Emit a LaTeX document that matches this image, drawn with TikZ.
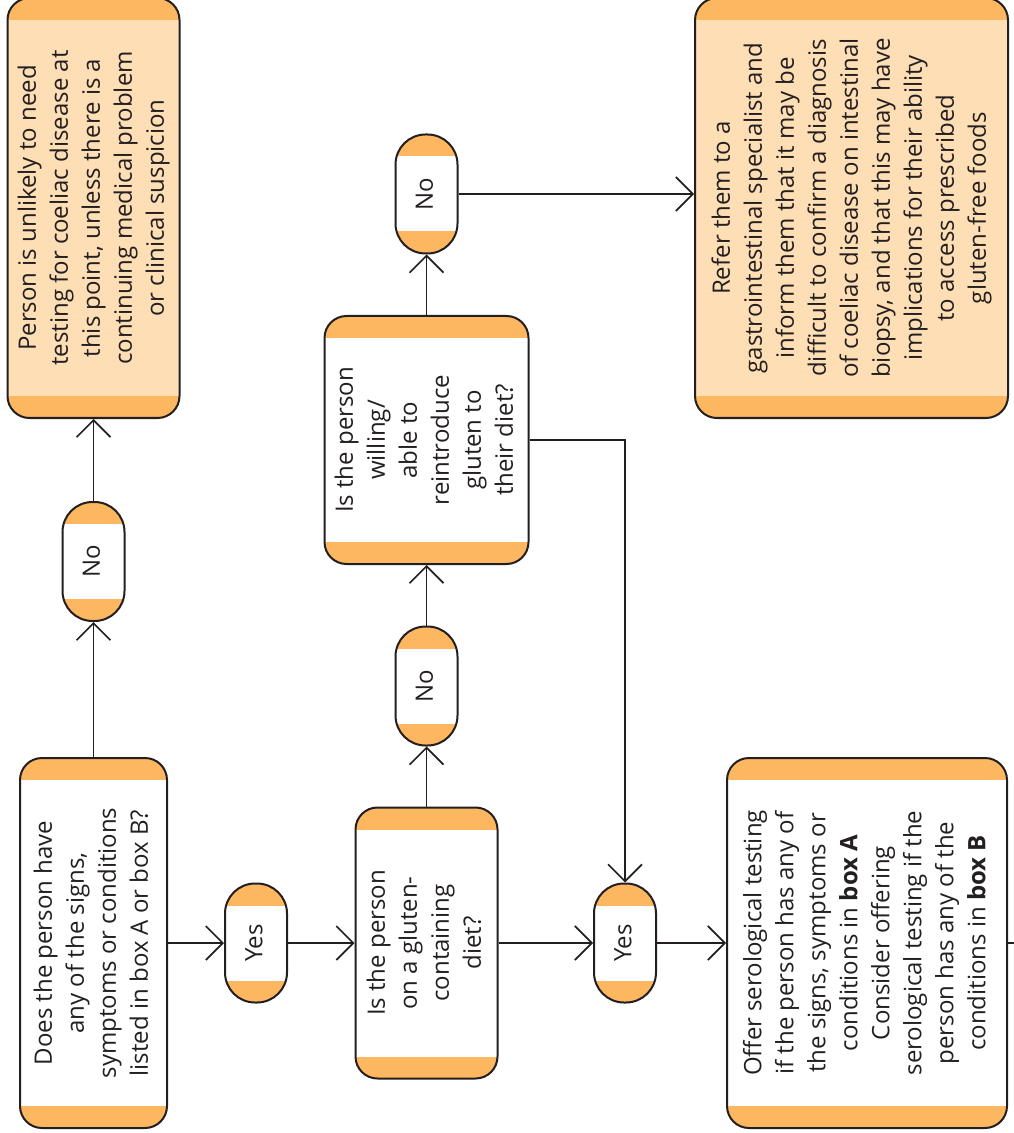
\documentclass[tikz,border=0pt]{standalone}
\usepackage{fontspec}
\setmainfont{Open Sans}
\usetikzlibrary{arrows.meta}
\definecolor{bandc}{RGB}{253,183,96}
\definecolor{peach}{RGB}{254,222,181}
\definecolor{ink}{RGB}{35,31,32}
\newcommand{\vtext}[1]{\rotatebox{90}{\fontsize{12pt}{16pt}\selectfont\begin{tabular}{@{}c@{}}#1\end{tabular}}}
\tikzset{
  banded/.style={draw=ink, line width=1pt, inner sep=0pt, text=ink,
    path picture={
      \fill[bandc, sharp corners] (path picture bounding box.north west) rectangle ([yshift=-11pt]path picture bounding box.north east);
      \fill[bandc, sharp corners] (path picture bounding box.south west) rectangle ([yshift=11pt]path picture bounding box.south east);}},
  qbox/.style={banded, fill=white, rounded corners=11pt},
  endbox/.style={banded, fill=peach, rounded corners=11pt},
  pill/.style={banded, fill=white, rounded corners=15pt, minimum width=31pt, minimum height=59.5pt},
  plainline/.style={draw=ink, line width=0.85pt},
  link/.style={plainline, -{Straight Barb[length=8.5pt,width=17pt,line width=0.85pt]}},
}
\begin{document}
\begin{tikzpicture}[x=0.5pt,y=-0.5pt]
\useasboundingbox (0,0) rectangle (1013,1133);
% top outcome boxes
\node[endbox, minimum width=86pt, minimum height=210pt] (person) at (93.5,208)
  {\vtext{Person is unlikely to need\\ testing for coeliac disease at\\ this point, unless there is a\\ continuing medical problem\\ or clinical suspicion}};
\node[endbox, minimum width=156.5pt, minimum height=210pt] (refer) at (851.5,208)
  {\vtext{Refer them to a\\ gastrointestinal specialist and\\ inform them that it may be\\ difficult to confirm a diagnosis\\ of coeliac disease on intestinal\\ biopsy, and that this may have\\ implications for their ability\\ to access prescribed\\ gluten-free foods}};
% middle
\node[pill] (no3) at (426.5,194) {\vtext{No}};
\node[qbox, minimum width=102pt, minimum height=124pt] (q3) at (426.5,440)
  {\vtext{Is the person\\ willing/\\ able to\\ reintroduce\\ gluten to\\ their diet?}};
\node[pill] (no2) at (426.5,686) {\vtext{No}};
\node[pill] (no1) at (93.5,561.5) {\vtext{No}};
% bottom row
\node[qbox, minimum width=73.5pt, minimum height=185pt] (q1) at (93.5,943)
  {\vtext{Does the person have\\ any of the signs,\\ symptoms or conditions\\ listed in box A or box B?}};
\node[pill] (yes1) at (256,943) {\vtext{Yes}};
\node[qbox, minimum width=71pt, minimum height=135.5pt] (q2) at (426.5,943)
  {\vtext{Is the person\\ on a gluten-\\ containing\\ diet?}};
\node[pill] (yes2) at (625,943) {\vtext{Yes}};
\node[qbox, minimum width=140pt, minimum height=185pt] (offer) at (867,943)
  {\vtext{Offer serological testing\\ if the person has any of\\ the signs, symptoms or\\ conditions in \textbf{box A}\\ Consider offering\\ serological testing if the\\ person has any of the\\ conditions in \textbf{box B}}};
\coordinate (offend) at (1040,943);
% connectors
\draw[link] (q1) -- (no1);
\draw[link] (no1) -- (person);
\draw[link] (q1) -- (yes1);
\draw[link] (yes1) -- (q2);
\draw[link] (q2) -- (no2);
\draw[link] (no2) -- (q3);
\draw[link] (q3) -- (no3);
\draw[link] (no3.east) -- (no3.east -| refer.west);
\draw[link] (q3.east) -| (yes2);
\draw[link] (q2) -- (yes2);
\draw[link] (yes2) -- (offer);
\draw[plainline] (offer) -- (offend);
\end{tikzpicture}
\end{document}
